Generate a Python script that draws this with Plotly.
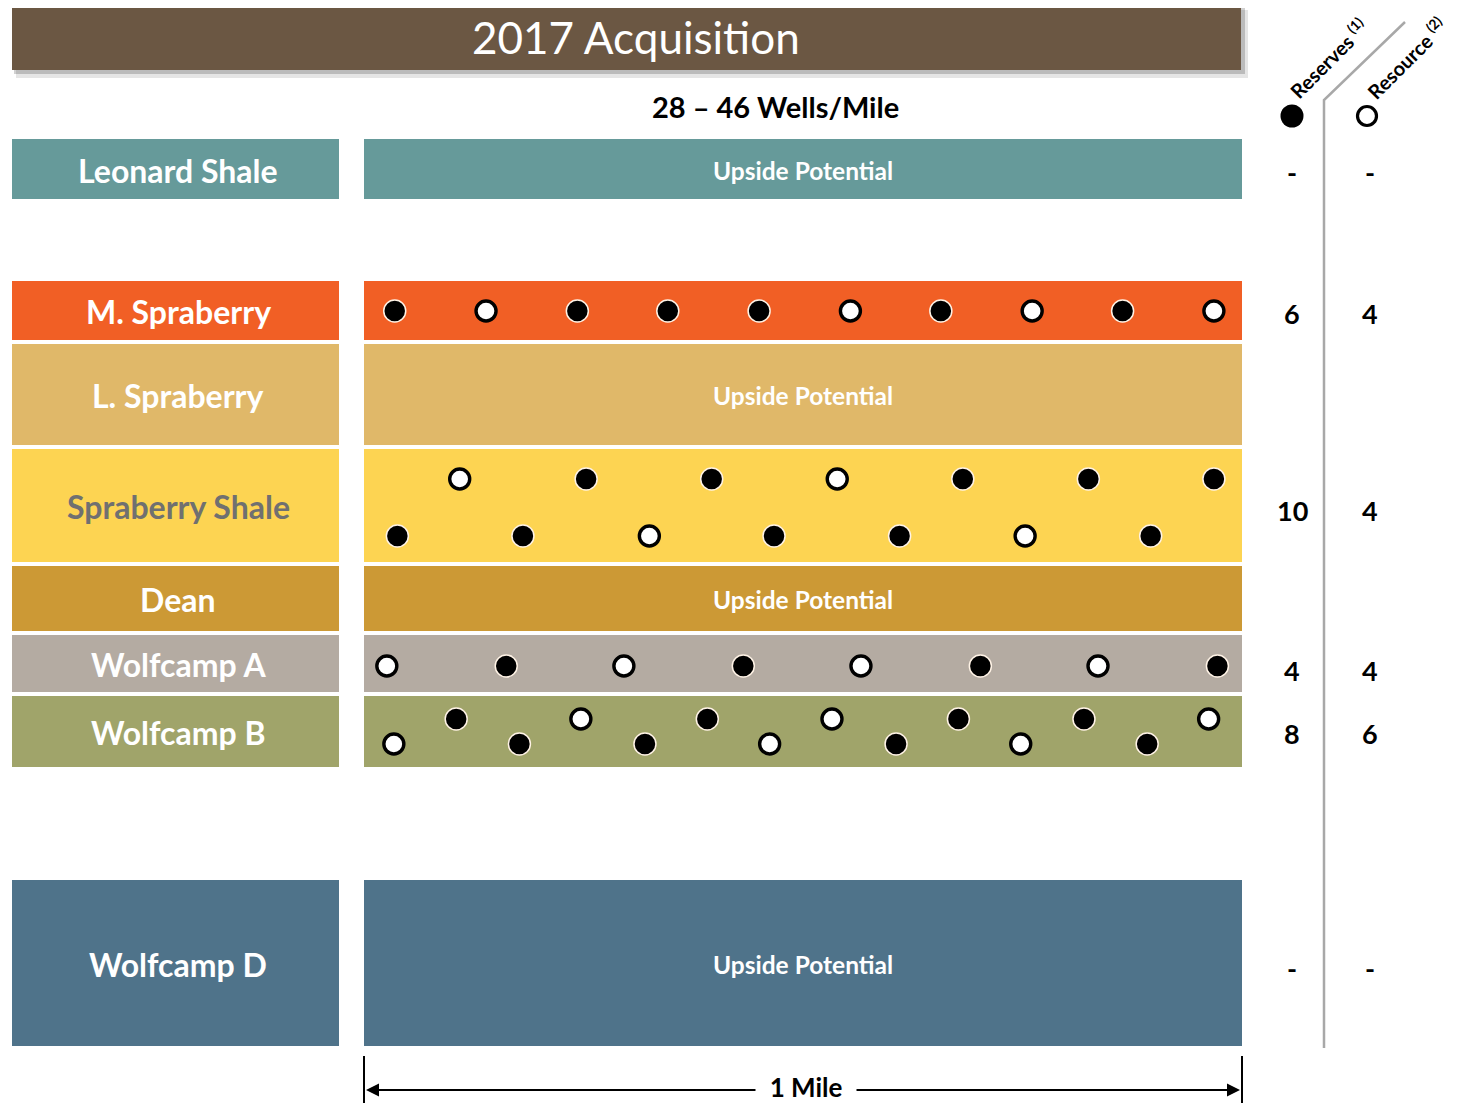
import plotly.graph_objects as go

# ---------------- DATA ----------------
layers = ["Leonard Shale", "M. Spraberry", "L. Spraberry", "Spraberry Shale",
          "Dean", "Wolfcamp A", "Wolfcamp B", "Wolfcamp D"]
reserves_count = ["-", "6", "", "10", "", "4", "8", "-"]
resource_count = ["-", "4", "", "4", "", "4", "6", "-"]
upside_layers = ["Leonard Shale", "L. Spraberry", "Dean", "Wolfcamp D"]

# well positions along the 1-mile section (fraction of a mile); R = reserves, O = resource
ms_x = [0.035, 0.139, 0.243, 0.346, 0.450, 0.554, 0.657, 0.761, 0.864, 0.968]
ms_type = ["R", "O", "R", "R", "R", "O", "R", "O", "R", "O"]

ss_top_x = [0.109, 0.253, 0.396, 0.539, 0.682, 0.825, 0.968]
ss_top_type = ["O", "R", "R", "O", "R", "R", "R"]
ss_bot_x = [0.038, 0.181, 0.325, 0.467, 0.610, 0.753, 0.896]
ss_bot_type = ["R", "R", "O", "R", "R", "O", "R"]

wa_x = [0.026, 0.162, 0.296, 0.432, 0.566, 0.702, 0.836, 0.972]
wa_type = ["O", "R", "O", "R", "O", "R", "O", "R"]

wb_top_x = [0.105, 0.247, 0.391, 0.533, 0.677, 0.820, 0.962]
wb_top_type = ["R", "O", "R", "O", "R", "R", "O"]
wb_bot_x = [0.034, 0.177, 0.320, 0.462, 0.606, 0.748, 0.892]
wb_bot_type = ["O", "R", "R", "O", "R", "O", "R"]

title_text = "2017 Acquisition"
subtitle_text = "28 – 46 Wells/Mile"

# ---------------- LAYOUT / STYLE ----------------
W, H = 1460, 1103
OFF = 8                     # page body margin
X0, X1 = 364, 1242          # pixel extent of the 1-mile section
def X(px):
    return (px - X0) / (X1 - X0)

layer_bounds = {            # top, bottom (px)
    "Leonard Shale": (139, 199),
    "M. Spraberry": (281, 340),
    "L. Spraberry": (344, 445),
    "Spraberry Shale": (449, 562),
    "Dean": (566, 631),
    "Wolfcamp A": (635, 692),
    "Wolfcamp B": (696, 767),
    "Wolfcamp D": (880, 1046),
}
layer_colors = {
    "Leonard Shale": "#669A9A",
    "M. Spraberry": "#F15F25",
    "L. Spraberry": "#E0B869",
    "Spraberry Shale": "#FDD452",
    "Dean": "#CC9935",
    "Wolfcamp A": "#B4ABA2",
    "Wolfcamp B": "#A0A46A",
    "Wolfcamp D": "#4F738A",
}
label_colors = {k: "white" for k in layers}
label_colors["Spraberry Shale"] = "#707070"

row_y = {
    "ms": 311, "ss_top": 479, "ss_bot": 536,
    "wa": 666, "wb_top": 719, "wb_bot": 744,
}
num_y = {"Leonard Shale": 172, "M. Spraberry": 313, "Spraberry Shale": 510,
         "Wolfcamp A": 670, "Wolfcamp B": 733, "Wolfcamp D": 968}

FONT = "Lato"
shapes, annotations = [], []

# title bar with shadow
shapes.append(dict(type="rect", x0=X(16), x1=X(1248), y0=10, y1=78,
                   fillcolor="rgba(0,0,0,0.10)", line_width=0, layer="below"))
shapes.append(dict(type="rect", x0=X(14), x1=X(1245), y0=8, y1=74,
                   fillcolor="rgba(0,0,0,0.18)", line_width=0, layer="below"))
shapes.append(dict(type="rect", x0=X(12), x1=X(1241), y0=5, y1=70,
                   fillcolor="#6B5743", line_width=0, layer="below"))
annotations.append(dict(x=X(636), y=37, text=title_text, showarrow=False,
                        font=dict(family=FONT, size=44, color="white")))
annotations.append(dict(x=X(775), y=106, text="<b>" + subtitle_text + "</b>", showarrow=False,
                        font=dict(family=FONT, size=29, color="black")))

for i, name in enumerate(layers):
    t, b = layer_bounds[name]
    col = layer_colors[name]
    # label box
    shapes.append(dict(type="rect", x0=X(12), x1=X(339), y0=t, y1=b,
                       fillcolor=col, line_width=0, layer="below"))
    # section band
    shapes.append(dict(type="rect", x0=X(X0), x1=X(X1), y0=t, y1=b,
                       fillcolor=col, line_width=0, layer="below"))
    annotations.append(dict(x=X(178), y=(t + b) / 2 + 1, text="<b>" + name + "</b>",
                            showarrow=False,
                            font=dict(family=FONT, size=32, color=label_colors[name])))
    if name in upside_layers:
        annotations.append(dict(x=X(803), y=(t + b) / 2 + 1, text="<b>Upside Potential</b>",
                                showarrow=False,
                                font=dict(family=FONT, size=24.5, color="white")))
    if reserves_count[i]:
        annotations.append(dict(x=X(1292), y=num_y[name], text="<b>" + reserves_count[i] + "</b>",
                                showarrow=False, font=dict(family=FONT, size=27, color="black")))
    if resource_count[i]:
        annotations.append(dict(x=X(1370), y=num_y[name], text="<b>" + resource_count[i] + "</b>",
                                showarrow=False, font=dict(family=FONT, size=27, color="black")))

# gray divider line
shapes.append(dict(type="path",
                   path=f"M {X(1324)},1048 L {X(1324)},100 L {X(1405)},22",
                   line=dict(color="#A8A8A8", width=2.5)))
annotations.append(dict(x=X(1328), y=58, text="<b>Reserves <sup>(1)</sup></b>", textangle=-45,
                        showarrow=False, font=dict(family=FONT, size=20, color="black")))
annotations.append(dict(x=X(1406), y=58, text="<b>Resource <sup>(2)</sup></b>", textangle=-45,
                        showarrow=False, font=dict(family=FONT, size=20, color="black")))

# scale bar
for px in (X0, X1):
    shapes.append(dict(type="line", x0=X(px), x1=X(px), y0=1056, y1=1110,
                       line=dict(color="black", width=2)))
mid = X(805)
for end in (X(X0 + 2), X(X1 - 2)):
    annotations.append(dict(x=end, y=1090, ax=mid, ay=1090, axref="x", ayref="y",
                            xref="x", yref="y", text="", showarrow=True,
                            arrowhead=2, arrowsize=1.3, arrowwidth=2, arrowcolor="black"))
annotations.append(dict(x=X(806), y=1087, text="<b>\u00a0\u00a01 Mile\u00a0\u00a0</b>", showarrow=False,
                        bgcolor="white", borderpad=1,
                        font=dict(family=FONT, size=26, color="black")))

# ---------------- WELLS ----------------
rows = [
    (ms_x, ms_type, row_y["ms"]),
    (ss_top_x, ss_top_type, row_y["ss_top"]),
    (ss_bot_x, ss_bot_type, row_y["ss_bot"]),
    (wa_x, wa_type, row_y["wa"]),
    (wb_top_x, wb_top_type, row_y["wb_top"]),
    (wb_bot_x, wb_bot_type, row_y["wb_bot"]),
]
rx, ry, ox, oy = [], [], [], []
for xs, ts, y in rows:
    for x, t in zip(xs, ts):
        if t == "R":
            rx.append(x); ry.append(y)
        else:
            ox.append(x); oy.append(y)

fig = go.Figure()
fig.add_trace(go.Scatter(x=rx, y=ry, mode="markers", name="Reserves",
                         marker=dict(size=22, color="black",
                                     line=dict(color="#FFF3E6", width=1.5))))
fig.add_trace(go.Scatter(x=ox, y=oy, mode="markers", name="Resource",
                         marker=dict(size=20, color="white",
                                     line=dict(color="black", width=3.4))))
# legend symbols
fig.add_trace(go.Scatter(x=[X(1292)], y=[116], mode="markers",
                         marker=dict(size=23, color="black"), hoverinfo="skip"))
fig.add_trace(go.Scatter(x=[X(1367)], y=[116], mode="markers",
                         marker=dict(size=19, color="white", line=dict(color="black", width=3.2)),
                         hoverinfo="skip"))

fig.update_layout(
    width=W, height=H, margin=dict(l=0, r=0, t=0, b=0),
    paper_bgcolor="white", plot_bgcolor="white", showlegend=False,
    shapes=shapes, annotations=annotations,
    xaxis=dict(range=[X(OFF), X(W + OFF)], visible=False, fixedrange=True),
    yaxis=dict(range=[H + OFF, OFF], visible=False, fixedrange=True),
)
fig.write_html("out.html")
